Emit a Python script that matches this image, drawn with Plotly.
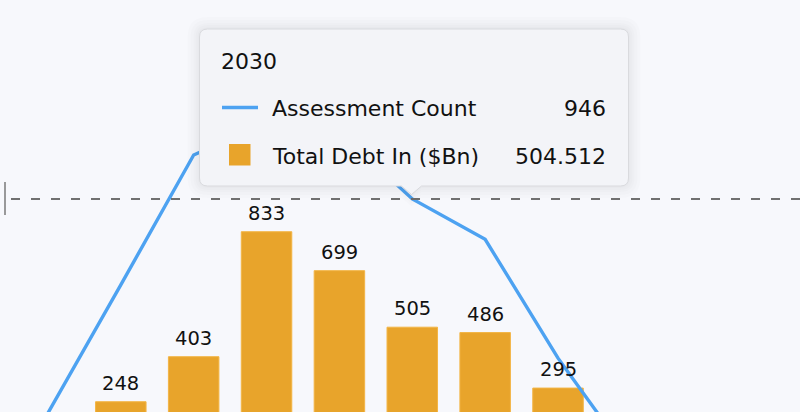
import plotly.graph_objects as go

# ---- data ----
years_line = [2025, 2026, 2027, 2028, 2029, 2030, 2031, 2032, 2033]
assessment_count = [209, 650, 1097, 1210, 1176, 946, 807, 398, 50]

years_bar = [2026, 2027, 2028, 2029, 2030, 2031, 2032]
total_debt = [248, 403, 833, 699, 504.512, 486, 295]

tooltip_year = "2030"
tooltip_rows = [("Assessment Count", "946"), ("Total Debt In ($Bn)", "504.512")]

# ---- style ----
W, H = 800, 412
BG = "#f7f8fc"
BLUE = "#4da2f1"
ORANGE = "#e8a42b"
FONT = "DejaVu Sans"
TXT = "#111111"

fig = go.Figure()

fig.add_trace(go.Bar(
    x=years_bar, y=total_debt, width=0.693,
    marker=dict(color=ORANGE, line=dict(color="#f3b545", width=1)),
    hoverinfo="skip", showlegend=False,
))
fig.add_trace(go.Scatter(
    x=years_line, y=assessment_count, mode="lines",
    line=dict(color=BLUE, width=3.4), hoverinfo="skip", showlegend=False,
))

annotations = []
for x, v in zip(years_bar, total_debt):
    annotations.append(dict(
        x=x, y=v, xref="x", yref="y", text=f"{v:.0f}", showarrow=False,
        yanchor="bottom", yshift=5, font=dict(family=FONT, size=19.5, color=TXT),
    ))

def px(x):
    return x / W

def py(y):
    return 1 - y / H

shapes = []
# crosshair dashed line
shapes.append(dict(type="line", xref="paper", yref="y", x0=px(11), x1=1.0,
                   y0=946, y1=946, line=dict(color="#707070", width=2, dash="9px,11px"),
                   layer="above"))
# small vertical marker at left
shapes.append(dict(type="line", xref="paper", yref="paper", x0=px(5), x1=px(5),
                   y0=py(182), y1=py(215), line=dict(color="#7a7a7a", width=1.5),
                   layer="above"))

# tooltip box
x0, y0, x1, y1, r = 199.5, 29, 628.5, 186, 8
ax, aw, ah = 411.5, 10, 8.5

def tip_path(o):
    X0, Y0, X1, Y1, R = x0 - o, y0 - o, x1 + o, y1 + o, r + o
    pts = [
        f"M{px(X0+R)},{py(Y0)}",
        f"L{px(X1-R)},{py(Y0)}",
        f"Q{px(X1)},{py(Y0)} {px(X1)},{py(Y0+R)}",
        f"L{px(X1)},{py(Y1-R)}",
        f"Q{px(X1)},{py(Y1)} {px(X1-R)},{py(Y1)}",
        f"L{px(ax+aw)},{py(Y1)}",
        f"L{px(ax)},{py(Y1+ah)}",
        f"L{px(ax-aw)},{py(Y1)}",
        f"L{px(X0+R)},{py(Y1)}",
        f"Q{px(X0)},{py(Y1)} {px(X0)},{py(Y1-R)}",
        f"L{px(X0)},{py(Y0+R)}",
        f"Q{px(X0)},{py(Y0)} {px(X0+R)},{py(Y0)}",
        "Z",
    ]
    return " ".join(pts)

for o in [12, 9, 6, 4, 2]:
    shapes.append(dict(type="path", xref="paper", yref="paper", path=tip_path(o),
                       fillcolor="rgba(0,0,0,0.012)", line=dict(width=0), layer="above"))
shapes.append(dict(type="path", xref="paper", yref="paper", path=tip_path(0),
                   fillcolor="#f3f4f8", line=dict(color="#d9dade", width=1), layer="above"))
# legend symbols in tooltip
shapes.append(dict(type="line", xref="paper", yref="paper", x0=px(222), x1=px(258),
                   y0=py(107.5), y1=py(107.5), line=dict(color=BLUE, width=3.5), layer="above"))
shapes.append(dict(type="rect", xref="paper", yref="paper", x0=px(229), x1=px(250.5),
                   y0=py(144), y1=py(165.5), fillcolor=ORANGE, line=dict(width=0), layer="above"))

tf = dict(family=FONT, size=22, color=TXT)
annotations.append(dict(x=px(219.5), y=py(61), xref="paper", yref="paper", text=tooltip_year,
                        showarrow=False, xanchor="left", yanchor="middle", font=tf))
for (label, val), yc in zip(tooltip_rows, [108, 156]):
    annotations.append(dict(x=px(270), y=py(yc), xref="paper", yref="paper", text=label,
                            showarrow=False, xanchor="left", yanchor="middle", font=tf))
    annotations.append(dict(x=px(608), y=py(yc), xref="paper", yref="paper", text=val,
                            showarrow=False, xanchor="right", yanchor="middle", font=tf))

spacing = 72.87
x_min = 2026 - 120.8 / spacing
x_max = x_min + W / spacing
scale = 0.2906
zero_px = 473.8
y_min = (zero_px - H) / scale
y_max = zero_px / scale

fig.update_layout(
    width=W, height=H, margin=dict(l=0, r=0, t=0, b=0),
    paper_bgcolor=BG, plot_bgcolor=BG,
    xaxis=dict(range=[x_min, x_max], visible=False, fixedrange=True),
    yaxis=dict(range=[y_min, y_max], visible=False, fixedrange=True),
    shapes=shapes, annotations=annotations,
    hovermode=False, showlegend=False,
    font=dict(family=FONT),
)

fig.write_html("out.html", config={"displayModeBar": False})
